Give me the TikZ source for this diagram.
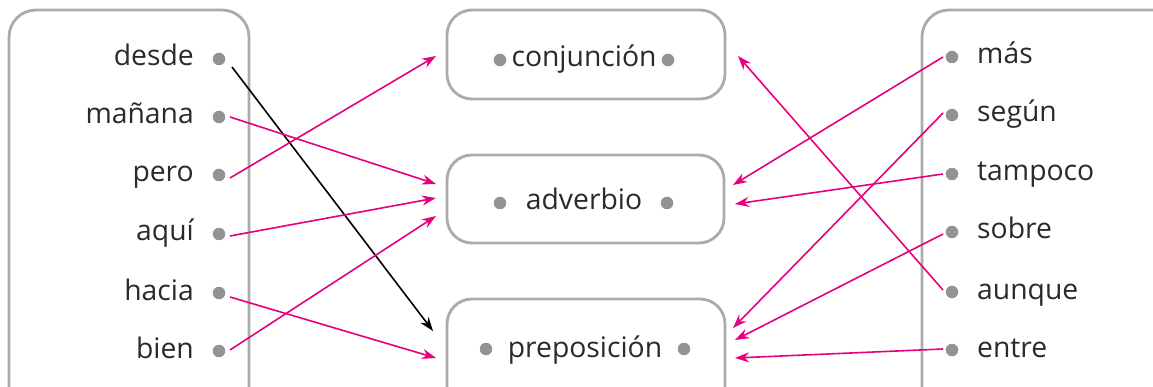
\documentclass[tikz,border=0pt]{standalone}
\usepackage{fontspec}
\setmainfont{Open Sans}
\usetikzlibrary{arrows.meta}
\definecolor{boxgray}{HTML}{ABABAE}
\definecolor{dotgray}{HTML}{939396}
\definecolor{txt}{HTML}{2A2A2A}
\definecolor{mag}{HTML}{E6007E}
\tikzset{
  frame/.style={draw=boxgray, line width=2.8pt, rounded corners=27pt, fill=white},
  dot/.style={circle, fill=dotgray, inner sep=0pt, minimum size=12.5pt},
  word/.style={font=\fontsize{28.3}{32}\selectfont, text=txt, inner sep=0pt},
  link/.style={draw=mag, line width=1.6pt, -{Stealth[length=14pt,width=10pt]}},
  blink/.style={draw=black, line width=1.6pt, -{Stealth[length=14pt,width=10pt]}}
}
\begin{document}
\begin{tikzpicture}[x=1pt,y=-1pt]
\useasboundingbox (0,0) rectangle (1153,387);
\begin{scope}
\clip (0,0) rectangle (1153,387);
% frames
\draw[frame] (9,10) rectangle (249,420);
\draw[frame] (922,10) rectangle (1190,420);
\draw[frame, rounded corners=25pt] (447,10) rectangle (725,99);
\draw[frame, rounded corners=25pt] (447,155) rectangle (724,243);
\draw[frame, rounded corners=25pt] (447,299) rectangle (725,420);
\end{scope}

% left column
\foreach \n/\w/\y in {l1/desde/59, l2/mañana/117, l3/pero/175, l4/aquí/234, l5/hacia/293, l6/bien/351}{
  \node[dot] (\n) at (219,\y) {};
  \node[word, anchor=base east] (\n t) at (194,\y+7) {\w};
}
% right column
\foreach \n/\w/\y in {r1/más/57, r2/según/115, r3/tampoco/174, r4/sobre/232, r5/aunque/292, r6/entre/350}{
  \node[dot] (\n) at (952,\y) {};
  \node[word, anchor=base west] (\n t) at (977,\y+7) {\w};
}
% middle
\node[word, anchor=base] (conj) at (584,67) {conjunción};
\node[dot] (c1) at (500,60) {};
\node[dot] (c2) at (668,60) {};
\node[word, anchor=base] (adv) at (584,210) {adverbio};
\node[dot] (a1) at (500,203) {};
\node[dot] (a2) at (667,203) {};
\node[word, anchor=base] (prep) at (585,357) {preposición};
\node[dot] (p1) at (486,349) {};
\node[dot] (p2) at (684,349) {};

% targets
\coordinate (cL) at (436,56);
\coordinate (cR) at (738,56);
\coordinate (aL1) at (436,184);
\coordinate (aL2) at (436,198);
\coordinate (aL3) at (436,216);
\coordinate (aR1) at (733,185);
\coordinate (aR2) at (735,204);
\coordinate (pL1) at (433,331);
\coordinate (pL2) at (436,358);
\coordinate (pR1) at (733,328);
\coordinate (pR2) at (735,340);
\coordinate (pR3) at (735,358);
% sources
\coordinate (s1) at (232,67);
\coordinate (s2) at (230,117);
\coordinate (s3) at (230,178);
\coordinate (s4) at (230,236);
\coordinate (s5) at (230,297);
\coordinate (s6) at (230,350);
\coordinate (t1) at (943,57);
\coordinate (t2) at (943,113);
\coordinate (t3) at (943,174);
\coordinate (t4) at (943,234);
\coordinate (t5) at (943,290);
\coordinate (t6) at (943,349);

\draw[blink] (s1) -- (pL1);
\draw[link] (s2) -- (aL1);
\draw[link] (s3) -- (cL);
\draw[link] (s4) -- (aL2);
\draw[link] (s5) -- (pL2);
\draw[link] (s6) -- (aL3);
\draw[link] (t1) -- (aR1);
\draw[link] (t2) -- (pR1);
\draw[link] (t3) -- (aR2);
\draw[link] (t4) -- (pR2);
\draw[link] (t5) -- (cR);
\draw[link] (t6) -- (pR3);
\end{tikzpicture}
\end{document}
